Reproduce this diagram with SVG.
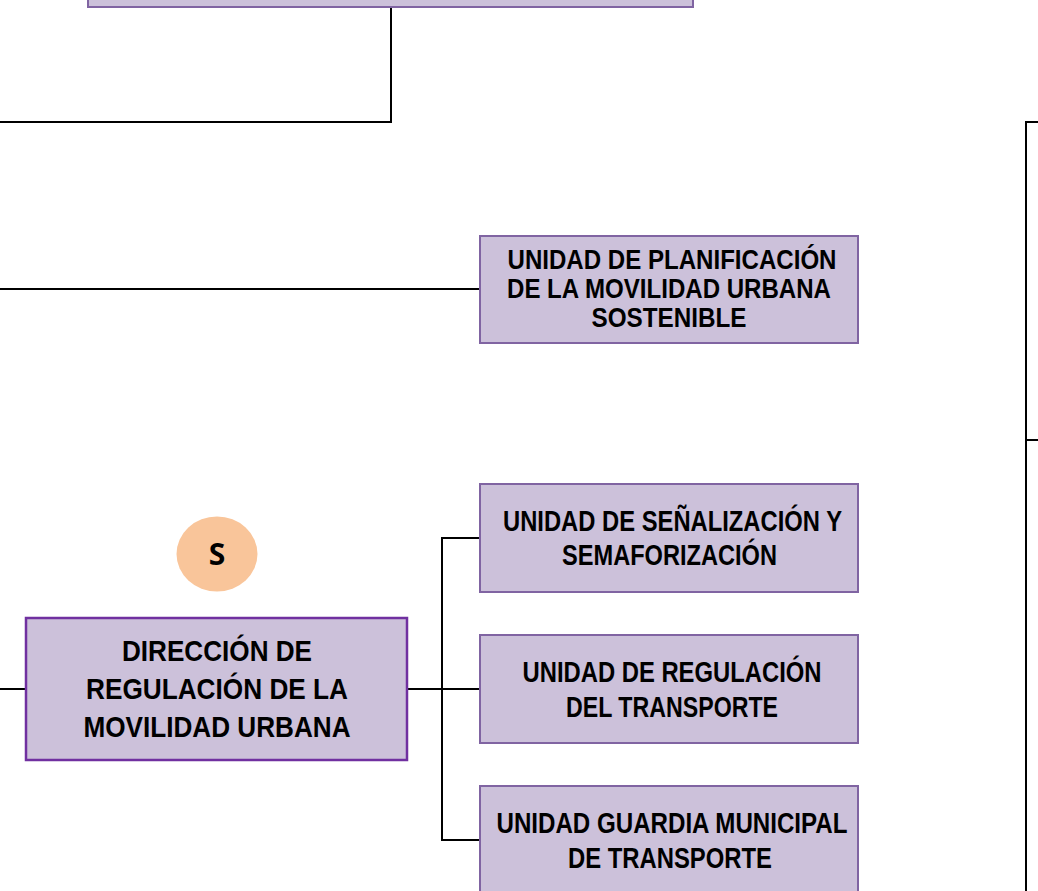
<svg xmlns="http://www.w3.org/2000/svg" width="1038" height="891" viewBox="0 0 1038 891">
<style>
.box{fill:#ccc1da;stroke:#8064a2;stroke-width:2}
.dbox{fill:#ccc1da;stroke:#7030a0;stroke-width:2.5}
.t{font-family:"Liberation Sans",Arial,sans-serif;font-weight:bold;fill:#000;text-anchor:middle}
.p{font-size:27px}
.u{font-size:29px}
.d{font-size:30px}
.ln{fill:none;stroke:#000;stroke-width:2}
</style>
<rect width="1038" height="891" fill="#fff"/>
<g id="connectors">
<polyline class="ln" points="391,7 391,122 0,122"/>
<polyline class="ln" points="1038,122 1026,122 1026,891"/>
<line class="ln" x1="1026" y1="440" x2="1038" y2="440"/>
<line class="ln" x1="0" y1="289" x2="480" y2="289"/>
<line class="ln" x1="0" y1="689" x2="26" y2="689"/>
<line class="ln" x1="407" y1="689" x2="480" y2="689"/>
<polyline class="ln" points="480,538 442,538 442,840 480,840"/>
</g>
<g id="top-node">
<rect class="box" x="88" y="-10" width="605" height="17"/>
</g>
<g id="planificacion">
<rect class="box" x="480" y="236" width="378" height="107"/>
<text class="t p"><tspan x="672" y="269" textLength="329" lengthAdjust="spacingAndGlyphs">UNIDAD DE PLANIFICACIÓN</tspan><tspan x="669" y="298" textLength="324" lengthAdjust="spacingAndGlyphs">DE LA MOVILIDAD URBANA</tspan><tspan x="669" y="327" textLength="155" lengthAdjust="spacingAndGlyphs">SOSTENIBLE</tspan></text>
</g>
<g id="badge-s">
<ellipse cx="217" cy="554" rx="40.5" ry="37.5" fill="#f9c59a"/>
<text x="217" y="565" font-family="Open Sans,Liberation Sans,sans-serif" font-weight="bold" font-size="30" text-anchor="middle" fill="#000">S</text>
</g>
<g id="direccion">
<rect class="dbox" x="26" y="618" width="381" height="142"/>
<text class="t d"><tspan x="217" y="661" textLength="190" lengthAdjust="spacingAndGlyphs">DIRECCIÓN DE</tspan><tspan x="217" y="699" textLength="262" lengthAdjust="spacingAndGlyphs">REGULACIÓN DE LA</tspan><tspan x="217" y="737" textLength="267" lengthAdjust="spacingAndGlyphs">MOVILIDAD URBANA</tspan></text>
</g>
<g id="senalizacion">
<rect class="box" x="480" y="484" width="378" height="108"/>
<text class="t u"><tspan x="672.5" y="531" textLength="339" lengthAdjust="spacingAndGlyphs">UNIDAD DE SEÑALIZACIÓN Y</tspan><tspan x="669.5" y="565" textLength="215" lengthAdjust="spacingAndGlyphs">SEMAFORIZACIÓN</tspan></text>
</g>
<g id="regulacion-transporte">
<rect class="box" x="480" y="635" width="378" height="108"/>
<text class="t u"><tspan x="672" y="682" textLength="299" lengthAdjust="spacingAndGlyphs">UNIDAD DE REGULACIÓN</tspan><tspan x="672" y="717" textLength="212" lengthAdjust="spacingAndGlyphs">DEL TRANSPORTE</tspan></text>
</g>
<g id="guardia">
<rect class="box" x="480" y="786" width="378" height="115"/>
<text class="t u"><tspan x="672" y="833" textLength="351" lengthAdjust="spacingAndGlyphs">UNIDAD GUARDIA MUNICIPAL</tspan><tspan x="670" y="868" textLength="204" lengthAdjust="spacingAndGlyphs">DE TRANSPORTE</tspan></text>
</g>
</svg>
